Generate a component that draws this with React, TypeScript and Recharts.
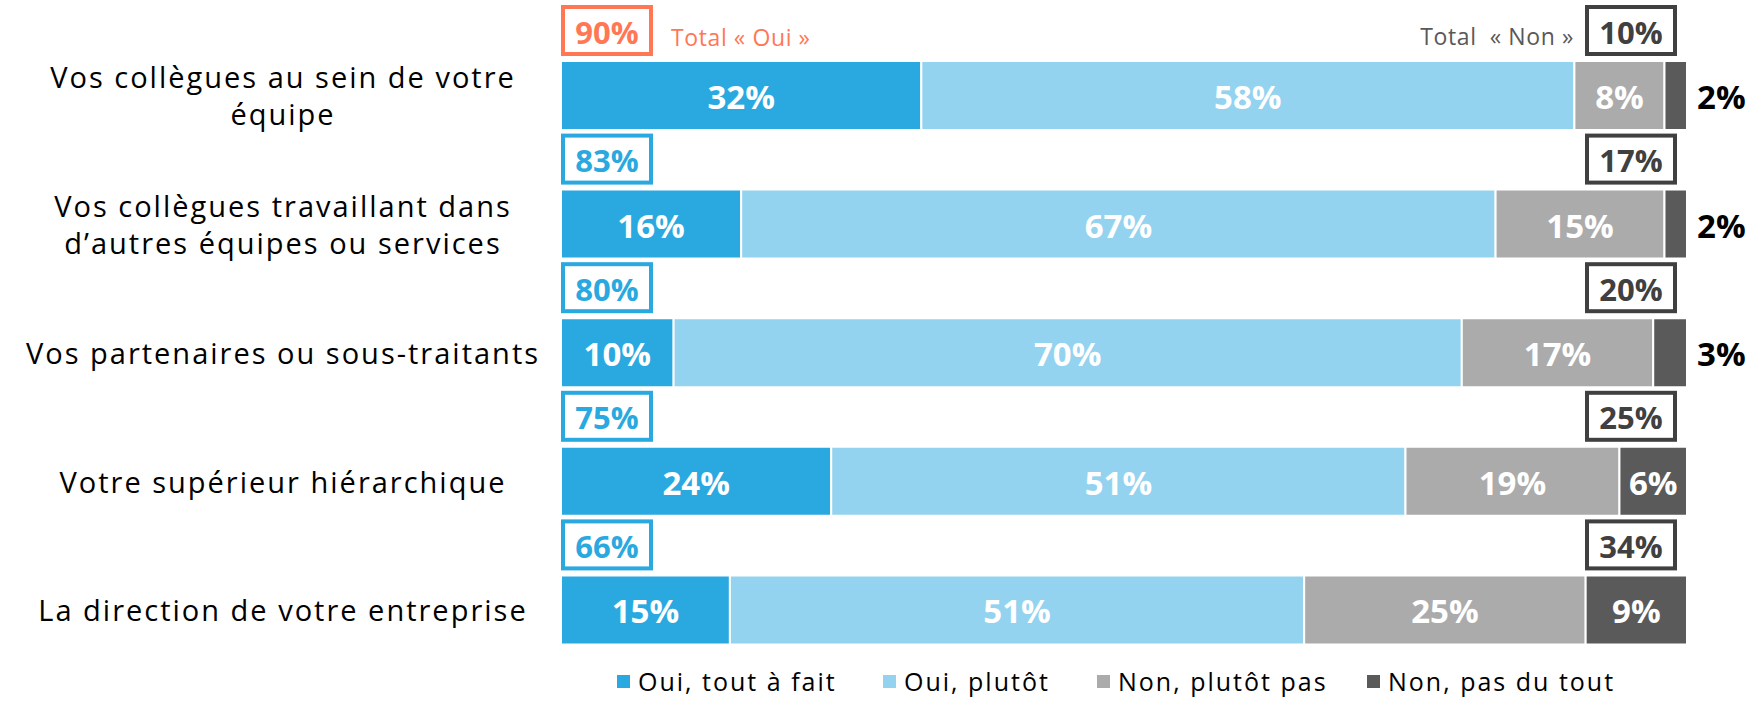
import { Bar, BarChart, LabelList, Legend, XAxis, YAxis } from "recharts";

const categories = [
  "Vos collègues au sein de votre\néquipe",
  "Vos collègues travaillant dans\nd’autres équipes ou services",
  "Vos partenaires ou sous-traitants",
  "Votre supérieur hiérarchique",
  "La direction de votre entreprise",
];
const ouiToutAFait = [32, 16, 10, 24, 15];
const ouiPlutot = [58, 67, 70, 51, 51];
const nonPlutotPas = [8, 15, 17, 19, 25];
const nonPasDuTout = [2, 2, 3, 6, 9];
const totalOui = [90, 83, 80, 75, 66];
const totalNon = [10, 17, 20, 25, 34];

const series = [
  { key: "a", name: "Oui, tout à fait", color: "#29A9E0" },
  { key: "b", name: "Oui, plutôt", color: "#93D3EF" },
  { key: "c", name: "Non, plutôt pas", color: "#ABABAB" },
  { key: "d", name: "Non, pas du tout", color: "#5A5A5A" },
];

const data = categories.map((name, i) => ({
  name,
  a: ouiToutAFait[i],
  b: ouiPlutot[i],
  c: nonPlutotPas[i],
  d: nonPasDuTout[i],
}));

const FONT = "'Open Sans', sans-serif";
const BOX_W = 92;
const BOX_H = 51;

function box(props: any) {
  const vb = props.viewBox || props;
  return { x: Number(vb.x), y: Number(vb.y), width: Number(vb.width), height: Number(vb.height) };
}

function valueText(b: { x: number; y: number; width: number; height: number }, value: number) {
  return (
    <text
      x={b.x + b.width / 2}
      y={b.y + b.height / 2 + 1}
      textAnchor="middle"
      dominantBaseline="central"
      fill="#fff"
      fontSize={33}
      fontWeight={700}
      fontFamily={FONT}
    >
      {value}%
    </text>
  );
}

const OuiLabel = (props: any) => {
  const b = box(props);
  const i = props.index;
  const col = i === 0 ? "#FF7755" : "#29A9E0";
  return (
    <g>
      {valueText(b, props.value)}
      <rect
        x={b.x + 2}
        y={b.y - BOX_H - 3}
        width={BOX_W - 4}
        height={BOX_H - 4}
        fill="#fff"
        stroke={col}
        strokeWidth={4}
      />
      <text
        x={b.x + BOX_W / 2}
        y={b.y - BOX_H / 2 - 4}
        textAnchor="middle"
        dominantBaseline="central"
        fill={col}
        fontSize={31}
        fontWeight={700}
        fontFamily={FONT}
      >
        {totalOui[i]}%
      </text>
      {i === 0 && (
        <text
          x={b.x + 110}
          y={b.y - 15}
          fill="#FF7755"
          fontSize={23}
          letterSpacing={0.6}
          fontFamily={FONT}
        >
          Total « Oui »
        </text>
      )}
    </g>
  );
};

const MidLabel = (props: any) => valueText(box(props), props.value);

const NonLabel = (props: any) => {
  const b = box(props);
  const i = props.index;
  const right = b.x + b.width - 10;
  const small = props.value < 4;
  return (
    <g>
      {small ? (
        <text
          x={b.x + b.width + 10}
          y={b.y + b.height / 2 + 1}
          dominantBaseline="central"
          fill="#000"
          fontSize={33}
          fontWeight={700}
          fontFamily={FONT}
        >
          {props.value}%
        </text>
      ) : (
        valueText(b, props.value)
      )}
      <rect
        x={right - BOX_W + 2}
        y={b.y - BOX_H - 3}
        width={BOX_W - 4}
        height={BOX_H - 4}
        fill="#fff"
        stroke="#404040"
        strokeWidth={4}
      />
      <text
        x={right - BOX_W / 2}
        y={b.y - BOX_H / 2 - 4}
        textAnchor="middle"
        dominantBaseline="central"
        fill="#404040"
        fontSize={31}
        fontWeight={700}
        fontFamily={FONT}
      >
        {totalNon[i]}%
      </text>
      {i === 0 && (
        <text
          x={right - BOX_W - 11}
          y={b.y - 16}
          textAnchor="end"
          fill="#595959"
          fontSize={23}
          letterSpacing={0.6}
          fontFamily={FONT}
          style={{ whiteSpace: "pre" }}
        >
          {"Total  « Non »"}
        </text>
      )}
    </g>
  );
};

const CategoryTick = (props: any) => {
  const { y, payload } = props;
  const lines = String(payload.value).split("\n");
  const lh = 37;
  return (
    <g>
      {lines.map((l, k) => (
        <text
          key={k}
          x={283}
          y={y + (k - (lines.length - 1) / 2) * lh}
          textAnchor="middle"
          dominantBaseline="central"
          fill="#000"
          fontSize={29}
          letterSpacing={2}
          fontFamily={FONT}
        >
          {l}
        </text>
      ))}
    </g>
  );
};

const legendX = [617, 883, 1097, 1367];

const renderLegend = () => (
  <div style={{ position: "relative", height: 28, fontFamily: FONT }}>
    {series.map((s, i) => (
      <div
        key={s.key}
        style={{
          position: "absolute",
          left: legendX[i],
          top: 0,
          height: 28,
          display: "flex",
          alignItems: "center",
          whiteSpace: "nowrap",
        }}
      >
        <span style={{ display: "inline-block", width: 13, height: 13, background: s.color, marginRight: 8 }} />
        <span style={{ fontSize: 25, lineHeight: "28px", letterSpacing: 2, color: "#000" }}>{s.name}</span>
      </div>
    ))}
  </div>
);

export default function App() {
  return (
    <div style={{ position: "absolute", left: 0, top: 0, width: 1759, height: 702, background: "#fff" }}>
      <BarChart
        width={1759}
        height={702}
        data={data}
        layout="vertical"
        margin={{ top: 31, right: 72, left: 0, bottom: 0 }}
        barSize={69}
      >
        <XAxis type="number" domain={[0, 100]} hide />
        <YAxis
          type="category"
          dataKey="name"
          width={561}
          axisLine={false}
          tickLine={false}
          tick={<CategoryTick />}
        />
        <Legend
          verticalAlign="bottom"
          height={28}
          wrapperStyle={{ left: 0, top: 667, width: 1759 }}
          content={renderLegend}
        />
        {series.map((s) => (
          <Bar
            key={s.key}
            dataKey={s.key}
            name={s.name}
            stackId="s"
            fill={s.color}
            stroke="#fff"
            strokeWidth={2}
            isAnimationActive={false}
          >
            <LabelList
              dataKey={s.key}
              content={s.key === "a" ? OuiLabel : s.key === "d" ? NonLabel : MidLabel}
            />
          </Bar>
        ))}
      </BarChart>
    </div>
  );
}
